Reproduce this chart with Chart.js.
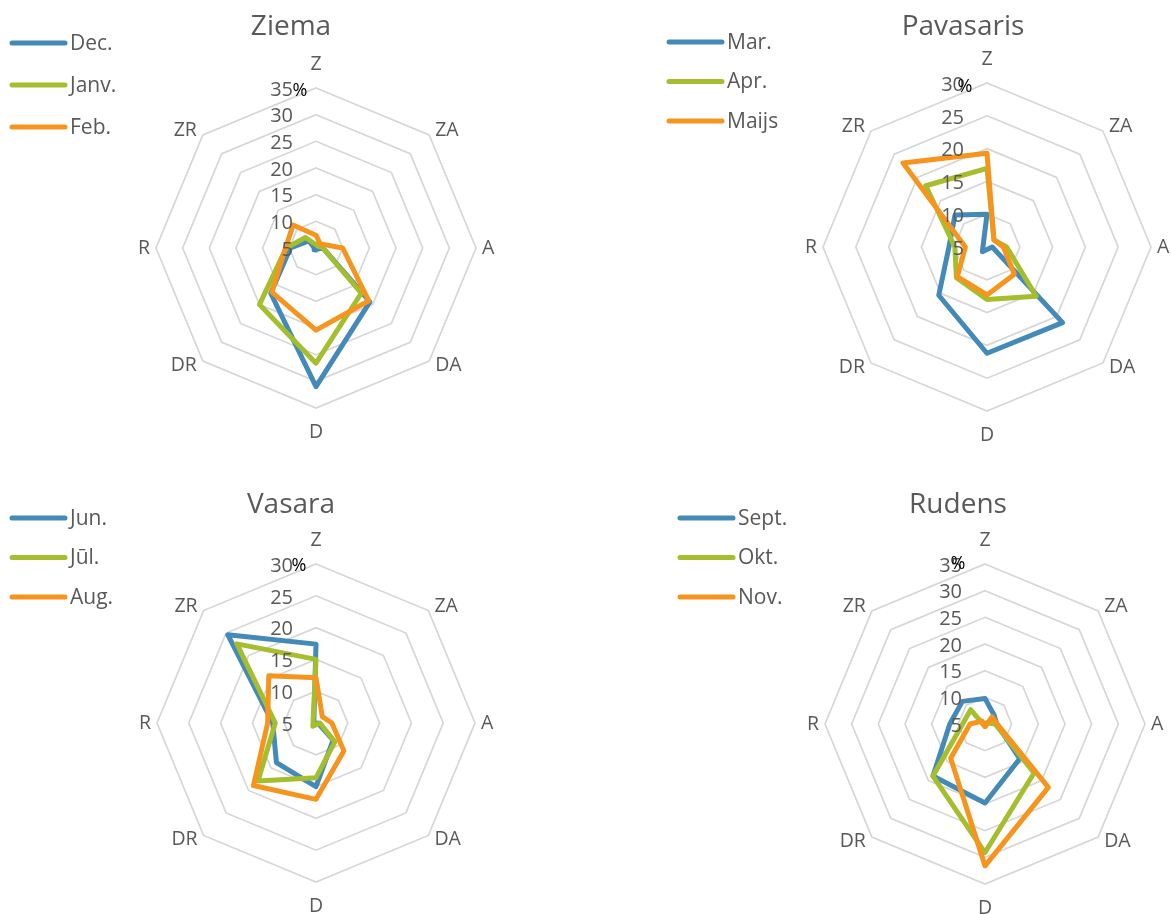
<!DOCTYPE html>
<html>
<head>
<meta charset="utf-8">
<script src="https://cdn.jsdelivr.net/npm/chart.js@4/dist/chart.umd.min.js"></script>
<style>
  html, body { margin: 0; padding: 0; background: #ffffff; }
  #wrap { position: relative; width: 1171px; height: 914px; overflow: hidden; }
  #wrap canvas { position: absolute; }
</style>
</head>
<body>
<div id="wrap">
  <canvas id="ziema" width="585" height="457" style="left:0px;top:0px"></canvas>
  <canvas id="pavasaris" width="585" height="457" style="left:586px;top:0px"></canvas>
  <canvas id="vasara" width="585" height="457" style="left:0px;top:457px"></canvas>
  <canvas id="rudens" width="585" height="457" style="left:586px;top:457px"></canvas>
</div>
<script>
// Wind directions, clockwise from north
const directions = ['Z', 'ZA', 'A', 'DA', 'D', 'DR', 'R', 'ZR'];

// Radial axis ticks (%)
const ticksTo35 = [5, 10, 15, 20, 25, 30, 35];
const ticksTo30 = [5, 10, 15, 20, 25, 30];

// Winter
const winterMonths = ['Dec.', 'Janv.', 'Feb.'];
const decValues  = [4.6, 4.5, 6.3, 19.3, 31.0, 17.0, 9.8, 6.9];
const janvValues = [5.6, 5.5, 6.3, 17.0, 26.6, 20.0, 10.6, 7.8];
const febValues  = [7.4, 6.1, 10.0, 19.0, 20.4, 16.7, 10.7, 11.1];

// Spring
const springMonths = ['Mar.', 'Apr.', 'Maijs'];
const marValues   = [10.0, 4.0, 5.8, 21.3, 21.2, 15.4, 10.8, 11.9];
const aprValues   = [17.0, 6.5, 8.0, 15.6, 13.0, 11.6, 9.9, 18.2];
const maijsValues = [19.3, 6.5, 7.5, 10.9, 12.3, 11.4, 8.3, 23.1];

// Summer
const summerMonths = ['Jun.', 'Jūl.', 'Aug.'];
const junValues = [17.4, 4.5, 5.3, 8.8, 15.0, 13.8, 11.8, 24.6];
const julValues = [15.0, 4.3, 5.6, 9.2, 13.6, 17.9, 11.4, 22.6];
const augValues = [12.1, 6.4, 7.5, 11.2, 17.0, 18.9, 12.6, 15.5];

// Autumn
const autumnMonths = ['Sept.', 'Okt.', 'Nov.'];
const septValues = [9.8, 7.4, 7.2, 14.2, 19.8, 18.8, 11.6, 11.0];
const oktValues  = [4.5, 5.3, 6.9, 18.0, 29.1, 18.8, 9.2, 8.8];
const novValues  = [4.5, 6.9, 7.3, 21.8, 31.6, 14.1, 7.8, 5.8];

const seriesColors = ['#448AB8', '#A5BE2E', '#F7941E'];
const TEXT = '#595959';
const FONT = "'Open Sans', 'Noto Sans', sans-serif";

// Draws tick numbers, direction labels, the % unit, the title and the key
const radarDecor = {
  id: 'radarDecor',
  afterDraw(chart, args, o) {
    const ctx = chart.ctx;
    const r = chart.scales.r;
    const R = r.drawingArea;
    ctx.save();

    // value ticks, right-aligned left of the north axis
    ctx.fillStyle = TEXT;
    ctx.font = '20px ' + FONT;
    ctx.textAlign = 'right';
    ctx.textBaseline = 'middle';
    r.ticks.forEach(t => {
      const y = r.yCenter - r.getDistanceFromCenterForValue(t.value);
      ctx.fillText(String(t.value), r.xCenter - 23, y + 2);
    });

    // unit
    ctx.fillStyle = '#000000';
    ctx.font = '18px ' + FONT;
    ctx.textAlign = 'center';
    ctx.fillText('%', r.xCenter + o.pctDx, r.yCenter - R + o.pctDy);

    // direction labels
    ctx.fillStyle = TEXT;
    ctx.font = '19.5px ' + FONT;
    chart.data.labels.forEach((lab, i) => {
      const p = r.getPointPosition(i, R);
      const c = Math.cos(p.angle), s = Math.sin(p.angle);
      if (Math.abs(c) < 0.1) {
        ctx.textAlign = 'center';
        ctx.fillText(lab, p.x, p.y + s * 24);
      } else {
        ctx.textAlign = c > 0 ? 'left' : 'right';
        ctx.fillText(lab, p.x + (c > 0 ? 6 : -6), p.y + s * 6);
      }
    });

    // title
    ctx.font = '28px ' + FONT;
    ctx.textAlign = 'center';
    ctx.textBaseline = 'alphabetic';
    ctx.fillText(o.title, o.titleX, o.titleY);

    // key
    ctx.font = '21px ' + FONT;
    ctx.textAlign = 'left';
    ctx.textBaseline = 'middle';
    ctx.lineCap = 'round';
    ctx.lineWidth = 5;
    chart.data.datasets.forEach((ds, i) => {
      const y = o.keyY + i * o.keyGap;
      ctx.strokeStyle = ds.borderColor;
      ctx.beginPath();
      ctx.moveTo(o.keyX, y);
      ctx.lineTo(o.keyX + 53, y);
      ctx.stroke();
      ctx.fillStyle = TEXT;
      ctx.fillText(ds.label, o.keyX + 58, y + 1);
    });
    ctx.restore();
  }
};

function makeRadar(id, title, names, series, ticks, g) {
  const canvas = document.getElementById(id);
  const W = canvas.width, H = canvas.height;
  const datasets = series.map((vals, i) => ({
    label: names[i],
    data: vals,
    borderColor: seriesColors[i],
    backgroundColor: seriesColors[i],
    borderWidth: 5,
    borderJoinStyle: 'round',
    borderCapStyle: 'round',
    fill: false,
    pointRadius: 0,
    order: series.length - i
  }));
  return new Chart(canvas, {
    type: 'radar',
    data: { labels: directions, datasets },
    options: {
      responsive: false,
      animation: false,
      devicePixelRatio: 1,
      layout: {
        padding: {
          left: g.cx - g.R,
          top: g.cy - g.R,
          right: W - g.cx - g.R,
          bottom: H - g.cy - g.R
        }
      },
      elements: { line: { tension: 0 } },
      plugins: {
        legend: { display: false },
        title: { display: false },
        tooltip: { enabled: false },
        radarDecor: {
          title, titleX: g.titleX, titleY: g.titleY,
          keyX: g.keyX, keyY: g.keyY, keyGap: g.keyGap,
          pctDx: g.pctDx, pctDy: g.pctDy
        }
      },
      scales: {
        r: {
          min: ticks[0],
          max: ticks[ticks.length - 1],
          ticks: { stepSize: ticks[1] - ticks[0], display: false },
          grid: { circular: false, color: '#D6D6D6', lineWidth: 1.7 },
          angleLines: { display: false },
          pointLabels: { display: false }
        }
      }
    },
    plugins: [radarDecor]
  });
}

makeRadar('ziema', 'Ziema', winterMonths, [decValues, janvValues, febValues], ticksTo35,
  { cx: 316, cy: 248, R: 160, titleX: 291, titleY: 35, keyX: 12, keyY: 43, keyGap: 42, pctDx: -16, pctDy: 3 });
makeRadar('pavasaris', 'Pavasaris', springMonths, [marValues, aprValues, maijsValues], ticksTo30,
  { cx: 401, cy: 247, R: 164, titleX: 377, titleY: 35, keyX: 83, keyY: 42, keyGap: 39.5, pctDx: -22, pctDy: 4 });
makeRadar('vasara', 'Vasara', summerMonths, [junValues, julValues, augValues], ticksTo30,
  { cx: 316, cy: 266, R: 159, titleX: 291, titleY: 56, keyX: 12, keyY: 61, keyGap: 39.5, pctDx: -17, pctDy: 2 });
makeRadar('rudens', 'Rudens', autumnMonths, [septValues, oktValues, novValues], ticksTo35,
  { cx: 399, cy: 267, R: 160, titleX: 372, titleY: 56, keyX: 94, keyY: 61, keyGap: 39.5, pctDx: -27, pctDy: 0 });
</script>
</body>
</html>
